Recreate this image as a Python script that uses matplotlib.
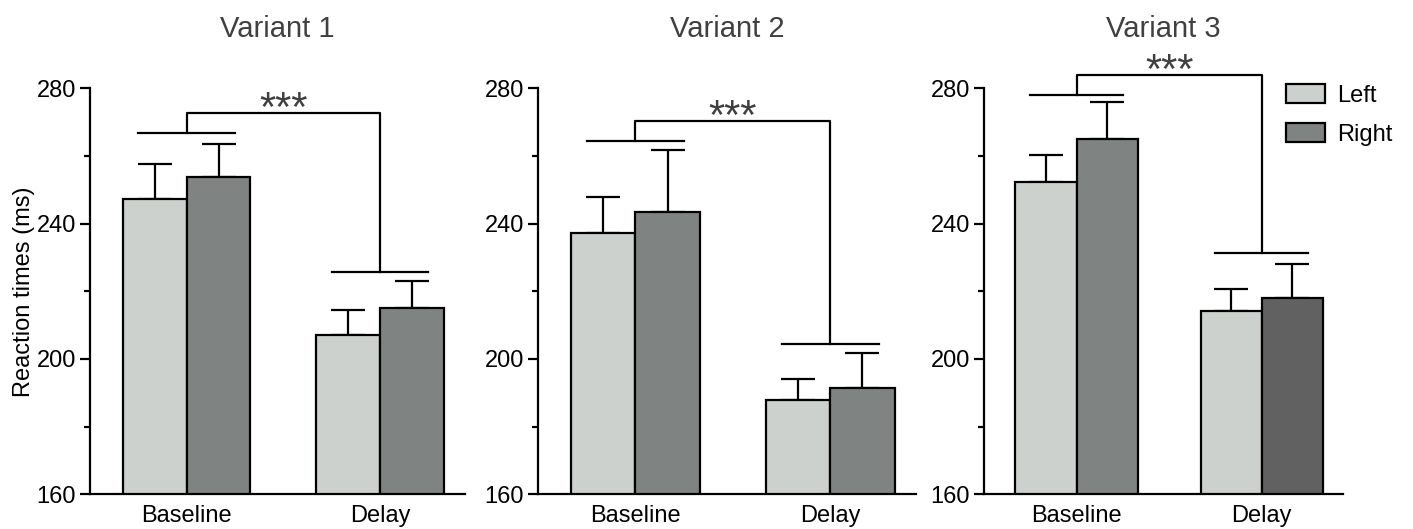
import numpy as np
import matplotlib
matplotlib.use("Agg")
import matplotlib.pyplot as plt
from matplotlib.patches import Patch
from matplotlib.ticker import MultipleLocator

plt.rcParams["font.family"] = ["Liberation Sans", "DejaVu Sans"]

# ---------------------------------------------------------------------------
# 数据
# ---------------------------------------------------------------------------
conditions = ["Baseline", "Delay"]
variants = ["Variant 1", "Variant 2", "Variant 3"]

left_mean = [[247.2, 207.2], [237.2, 187.8], [252.3, 214.2]]
left_err = [[10.4, 7.4], [10.6, 6.2], [8.0, 6.5]]
right_mean = [[253.7, 215.1], [243.4, 191.3], [265.1, 218.1]]
right_err = [[9.8, 7.9], [18.4, 10.5], [10.8, 10.1]]

# 显著性括号：Baseline 组线、Delay 组线、顶部连接线
bracket_base = [266.7, 264.5, 278.1]
bracket_delay = [225.8, 204.3, 231.3]
bracket_top = [272.8, 270.3, 284.0]
sig_label = "***"

C_LEFT = "#cdd1ce"
C_RIGHT = "#7f8382"
C_RIGHT_DARK = "#616161"
right_colors = [[C_RIGHT, C_RIGHT], [C_RIGHT, C_RIGHT], [C_RIGHT, C_RIGHT_DARK]]

# 坐标轴位置（像素 -> figure 坐标）
W, H = 1413, 529
axes_px = [(90, 465), (538, 916), (984, 1343)]
y_bot, y_top = 494.3, 88.3

fig = plt.figure(figsize=(W / 100, H / 100), dpi=100)

bw = 0.33
xc = np.arange(len(conditions))
FS = 17

for k in range(3):
    x0, x1 = axes_px[k]
    ax = fig.add_axes([x0 / W, 1 - y_bot / H, (x1 - x0) / W, (y_bot - y_top) / H])

    ax.bar(xc - bw / 2, left_mean[k], bw, color=C_LEFT, edgecolor="black",
           linewidth=1.6, zorder=2)
    ax.bar(xc + bw / 2, right_mean[k], bw, color=right_colors[k], edgecolor="black",
           linewidth=1.6, zorder=2)
    ax.errorbar(xc - bw / 2, left_mean[k], yerr=[[0, 0], left_err[k]], fmt="none",
                ecolor="black", elinewidth=1.6, capsize=12, capthick=1.6, zorder=1)
    ax.errorbar(xc + bw / 2, right_mean[k], yerr=[[0, 0], right_err[k]], fmt="none",
                ecolor="black", elinewidth=1.6, capsize=12, capthick=1.6, zorder=1)

    # 显著性括号
    lk = dict(color="black", linewidth=1.6, clip_on=False)
    ax.plot([-0.25, 0.25], [bracket_base[k]] * 2, **lk)
    ax.plot([0.75, 1.25], [bracket_delay[k]] * 2, **lk)
    ax.plot([0, 0, 1, 1],
            [bracket_base[k], bracket_top[k], bracket_top[k], bracket_delay[k]], **lk)
    ax.text(0.5, bracket_top[k] + 0.8, sig_label, ha="center", va="center",
            fontsize=30, color="#404040", clip_on=False)

    ax.set_xlim(-0.5, 1.44)
    ax.set_ylim(160, 280)
    ax.yaxis.set_major_locator(MultipleLocator(40))
    ax.yaxis.set_minor_locator(MultipleLocator(20))
    ax.set_xticks(xc)
    ax.set_xticklabels(conditions)
    ax.tick_params(axis="x", length=0, pad=8, labelsize=FS)
    ax.tick_params(axis="y", which="major", length=7, width=1.6, pad=3, labelsize=FS)
    ax.tick_params(axis="y", which="minor", length=4.5, width=1.6)

    for s in ["top", "right"]:
        ax.spines[s].set_visible(False)
    for s in ["left", "bottom"]:
        ax.spines[s].set_linewidth(1.6)

    ax.set_title(variants[k], fontsize=21, color="#404040", pad=37)

    if k == 0:
        ax.set_ylabel("Reaction times (ms)", fontsize=FS, labelpad=1)

    if k == 2:
        handles = [Patch(facecolor=C_LEFT, edgecolor="black", linewidth=1.6),
                   Patch(facecolor=C_RIGHT, edgecolor="black", linewidth=1.6)]
        fig.legend(handles, ["Left", "Right"], loc="upper left",
                   bbox_to_anchor=(1286 / W, 1 - 84 / H), frameon=False,
                   fontsize=FS, handlelength=1.65, handleheight=0.85,
                   handletextpad=0.5, labelspacing=0.7, borderpad=0,
                   borderaxespad=0)

fig.savefig("out.png", dpi=100)
